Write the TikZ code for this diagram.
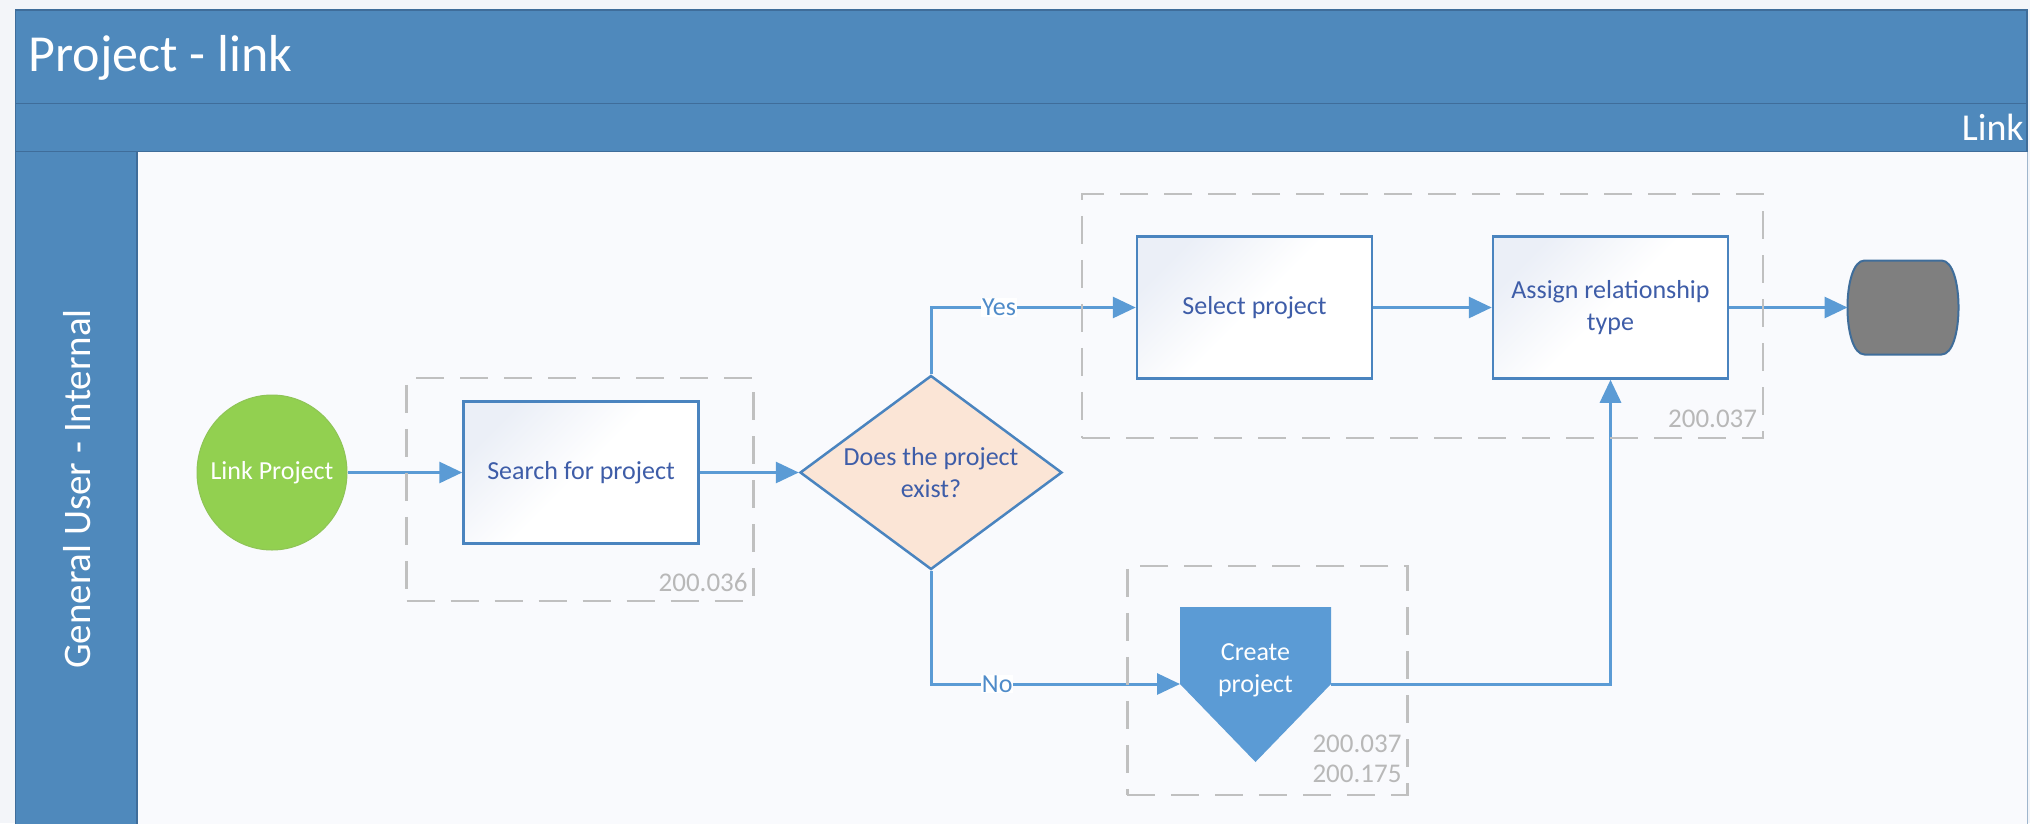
\documentclass[tikz,border=0pt]{standalone}
\usepackage{fontspec}
\setmainfont{Carlito}
\usetikzlibrary{arrows.meta,shapes.geometric,calc}

\definecolor{bandblue}{HTML}{4F89BC}
\definecolor{bandedge}{HTML}{3F6D9A}
\definecolor{flowblue}{HTML}{5B9BD5}
\definecolor{boxedge}{HTML}{4A84BF}
\definecolor{textblue}{HTML}{3E5DA8}
\definecolor{labelblue}{HTML}{4F8BC9}
\definecolor{dashgray}{HTML}{C0C0C0}
\definecolor{numgray}{HTML}{B8B8B8}
\definecolor{pagebg}{HTML}{F3F5F9}
\definecolor{lanebg}{HTML}{F9FAFD}
\definecolor{startgreen}{HTML}{92D050}
\definecolor{decfill}{HTML}{FBE5D6}
\definecolor{endgray}{HTML}{7F7F7F}
\definecolor{boxtint}{HTML}{EBEFF7}

\tikzset{
  bodyfont/.style={font=\fontsize{26}{32}\selectfont},
  taskbox/.style={draw=boxedge, line width=2.5pt, top color=boxtint,
    bottom color=white, middle color=white, shading angle=45,
    minimum width=235pt, minimum height=142pt, inner sep=0pt,
    text=textblue, align=center, bodyfont},
  startnode/.style={ellipse, fill=startgreen, draw=startgreen!85!gray,
    line width=1pt, minimum width=150pt, minimum height=155pt,
    inner sep=0pt},
  decision/.style={diamond, draw=boxedge, fill=decfill, line width=2.5pt,
    minimum width=262pt, minimum height=194pt, inner sep=0pt},
  flow/.style={draw=flowblue, line width=3pt,
    -{Triangle[length=23pt,width=21pt]}},
  yesno/.style={fill=white, inner sep=1pt, text=labelblue, bodyfont},
  groupbox/.style={draw=dashgray, line width=2.5pt,
    dash pattern=on 28pt off 16pt, inner sep=0pt},
  numlabel/.style={text=numgray, font=\fontsize{27}{30}\selectfont,
    inner sep=0pt, align=right, anchor=south east},
  band/.style={draw=bandedge, line width=1.5pt, fill=bandblue},
  holder/.style={inner sep=0pt, outer sep=0pt}
}

\begin{document}
\begin{tikzpicture}[x=1pt, y=-1pt]
\useasboundingbox (0,0) rectangle (2030,823);
\fill[pagebg] (0,0) rectangle (2030,823);

% pool and lane frame
\fill[lanebg] (137,151.5) rectangle (2027,830);
\draw[bandedge!50, line width=1pt] (2027,151.5) -- (2027,830);
\draw[band] (15.5,10) rectangle (2027,103.5);
\draw[band] (15.5,103.5) rectangle (2027,151.5);
\draw[band] (15.5,151.5) rectangle (137,830);

\node[anchor=west, text=white, font=\fontsize{52}{60}\selectfont]
  (title) at (25,58) {Project - link};
\node[anchor=east, text=white, font=\fontsize{38}{44}\selectfont, inner sep=0pt]
  (phase) at (2024,127) {Link};
\node[rotate=90, text=white, font=\fontsize{39}{46}\selectfont]
  (lane) at (77,489) {General User - Internal};

% process steps
\node[startnode] (start) at (272,472.5) {};
\node[text=white, bodyfont] (starttext) at (272,472.5) {Link Project};
\node[taskbox] (search) at (581,472.5) {Search for project};
\node[decision] (dia) at (931,472.5) {};
\node[text=textblue, align=center, bodyfont] (diatext) at (931,473)
  {Does the project\\exist?};
\node[taskbox] (sel) at (1254.5,307.5) {Select project};
\node[taskbox] (assign) at (1610.5,307.5) {Assign relationship\\type};

% terminator
\node[holder, minimum width=111pt, minimum height=94pt] (endn) at (1903,307.5) {};
\draw[fill=endgray, draw=bandedge, line width=2pt]
  ($(endn.north west)+(17,0)$) -- ($(endn.north east)+(-17,0)$)
  .. controls +(22.7,0) and +(22.7,0) .. ($(endn.south east)+(-17,0)$)
  -- ($(endn.south west)+(17,0)$)
  .. controls +(-22.7,0) and +(-22.7,0) .. ($(endn.north west)+(17,0)$)
  -- cycle;

% off-page reference
\node[holder, minimum width=151pt, minimum height=77pt] (create) at (1255.5,645.5) {};
\fill[flowblue] (create.north west) -- (create.north east) -- (create.south east)
  -- ($(create.south)+(0,78)$) -- (create.south west) -- cycle;
\node[text=white, align=center, bodyfont] (createtext) at (1255.5,670)
  {Create\\project};

% connectors
\draw[flow] (start.east) -- (search.west);
\draw[flow] (search.east) -- (dia.west);
\draw[flow] (dia.north) |- node[pos=0.666, yesno] (yes) {Yes} (sel.west);
\draw[flow] (sel.east) -- (assign.west);
\draw[flow] (assign.east) -- (endn.west);
\draw[flow] (dia.south) |- node[pos=0.633, yesno] (no) {No} (create.south west);
\draw[flow] (create.south east) -| (assign.south);

% requirement groups
\node[groupbox, minimum width=347pt, minimum height=223pt] (g1) at (580,489.4) {};
\node[groupbox, minimum width=681pt, minimum height=244pt] (g2) at (1422.5,315.8) {};
\node[groupbox, minimum width=280pt, minimum height=229pt] (g3) at (1267.4,680.4) {};

\node[numlabel] (n1) at ($(g1.south east)+(-7,-10)$) {200.036};
\node[numlabel] (n2) at ($(g2.south east)+(-7,-11)$) {200.037};
\node[numlabel] (n3) at ($(g3.south east)+(-7,-13)$) {200.037\\200.175};
\end{tikzpicture}
\end{document}
